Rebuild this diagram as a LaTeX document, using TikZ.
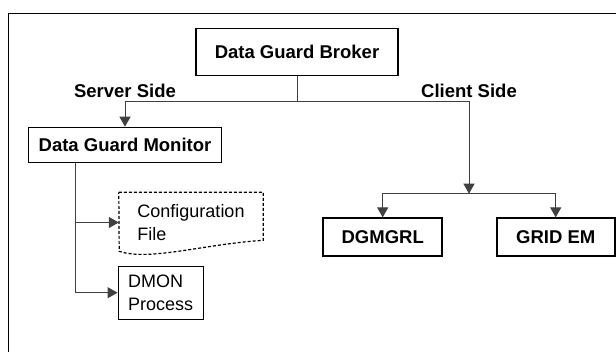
\documentclass[tikz,border=0pt]{standalone}
\usepackage{fontspec}
\setmainfont{Liberation Sans}
\usetikzlibrary{arrows.meta}
\tikzset{
	box/.style={draw, line width=1.6pt, inner sep=0pt, font=\bfseries\fontsize{18.5}{22}\selectfont},
	plain/.style={inner sep=0pt, align=left, font=\fontsize{18}{22.5}\selectfont},
	side/.style={font=\bfseries\fontsize{18.5}{22}\selectfont},
	link/.style={draw=black!75, line width=1pt},
	arr/.style={link, -{Triangle[length=10pt,width=11pt]}},
}
\begin{document}
\begin{tikzpicture}[x=1pt,y=-1pt]
		\useasboundingbox (0,0) rectangle (616,352);
		\draw[line width=1.5pt] (8.5,352) |- (616,13.5);
		
		\node[box, minimum width=202, minimum height=47] (broker) at (297,52) {Data Guard Broker};
		\node[side] (server) at (125,91) {Server Side};
		\node[side] (client) at (469,91) {Client Side};
		\coordinate (bus) at (297,102);
		\coordinate (cjoin) at (469,193.7);
		
		\node[box, minimum width=193, minimum height=35] (monitor) at (125,145) {Data Guard Monitor};
		\node[box, minimum width=119, minimum height=38] (dgmgrl) at (382.7,237.2) {DGMGRL};
		\node[box, minimum width=118, minimum height=38] (gridem) at (555.7,237.2) {GRID EM};
		
		\node[plain, minimum width=144, minimum height=60] (cfg) at (191,222.5) {Configuration\\File};
		\draw[line width=1.2pt, dash pattern=on 3pt off 2pt] (cfg.north west) -- (cfg.north east) -- ++(0,48)
			.. controls +(-60,4) and +(30,10) .. ++(-144,11) -- cycle;
		\node[plain, draw, line width=1.2pt, inner xsep=10pt, minimum height=53] (dmon) at (160.7,292.7) {DMON\\Process};
		\coordinate (mtap) at (75,163);
		
		\draw[link] (broker) -- (bus);
		\draw[arr] (bus) -| (monitor);
		\draw[arr] (bus) -| (cjoin);
		\draw[arr] (cjoin) -| (dgmgrl);
		\draw[arr] (cjoin) -| (gridem);
		\draw[arr] (mtap) |- (cfg);
		\draw[arr] (mtap) |- (dmon);
	\end{tikzpicture}
\end{document}
